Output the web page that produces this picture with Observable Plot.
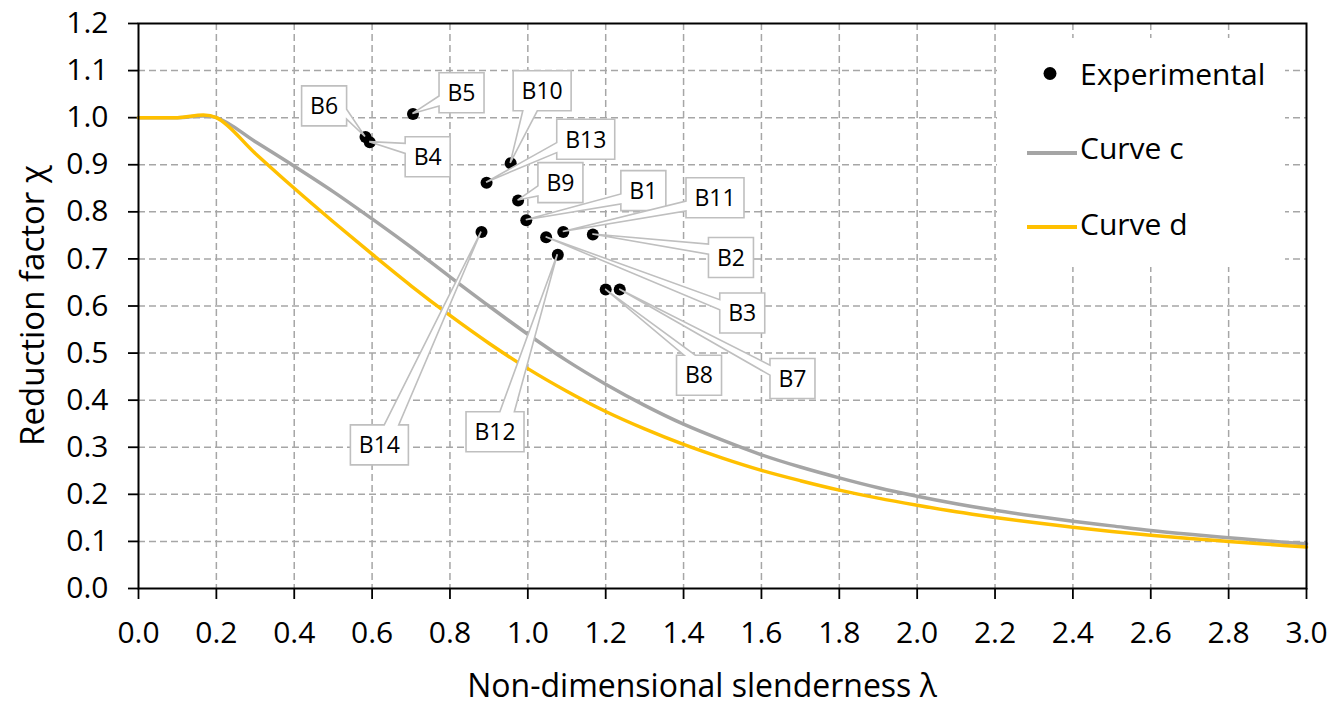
<!DOCTYPE html>
<html><head><meta charset="utf-8">
<script src="https://cdn.jsdelivr.net/npm/d3@7"></script>
<script src="https://cdn.jsdelivr.net/npm/@observablehq/plot@0.6"></script>
<style>
html,body{margin:0;padding:0;background:#fff;}
#chart svg{display:block;}
#chart svg g[aria-label*="axis"] path,#chart svg g[aria-label*="axis"] line{stroke-width:1.8px;stroke:#000;}
</style></head><body><div id="chart"></div>
<script>
// ---- data ----
const lambda = [0.0,0.1,0.2,0.3,0.4,0.5,0.6,0.7,0.8,0.9,1.0,1.1,1.2,1.3,1.4,1.5,1.6,1.7,1.8,1.9,2.0,2.1,2.2,2.3,2.4,2.5,2.6,2.7,2.8,2.9,3.0];
const curveC = [1.000,1.000,1.000,0.949,0.897,0.843,0.785,0.725,0.662,0.600,0.540,0.484,0.434,0.389,0.349,0.315,0.284,0.258,0.235,0.214,0.196,0.180,0.166,0.154,0.143,0.133,0.123,0.115,0.108,0.101,0.095];
const curveD = [1.000,1.000,1.000,0.924,0.850,0.779,0.710,0.643,0.580,0.521,0.467,0.419,0.376,0.339,0.306,0.277,0.251,0.229,0.209,0.192,0.177,0.163,0.151,0.140,0.130,0.121,0.113,0.106,0.100,0.094,0.088];

const names = ["B1","B2","B3","B4","B5","B6","B7","B8","B9","B10","B11","B12","B13","B14"];
const expX  = [0.996,1.167,1.047,0.594,0.705,0.583,1.236,1.200,0.975,0.956,1.091,1.077,0.894,0.881];
const expY  = [0.782,0.752,0.746,0.948,1.008,0.959,0.635,0.635,0.824,0.903,0.757,0.709,0.862,0.757];
// callout box centres (in chart units)
const labelX = [1.298,1.523,1.552,0.744,0.831,0.478,1.681,1.441,1.085,1.038,1.482,0.917,1.150,0.620];
const labelY = [0.844,0.702,0.584,0.916,1.052,1.024,0.445,0.452,0.861,1.056,0.829,0.332,0.953,0.304];

const xTicks = [0.0,0.2,0.4,0.6,0.8,1.0,1.2,1.4,1.6,1.8,2.0,2.2,2.4,2.6,2.8,3.0];
const yTicks = [0.0,0.1,0.2,0.3,0.4,0.5,0.6,0.7,0.8,0.9,1.0,1.1,1.2];
const seriesNames = ["Experimental","Curve c","Curve d"];
const xTitle = "Non-dimensional slenderness λ";
const yTitle = "Reduction factor χ";

// ---- styling ----
const FONT = "'Open Sans', 'DejaVu Sans', sans-serif";
const GRAY = "#A5A5A5", GOLD = "#FFC000", GRID = "#A6A6A6", CALLOUT = "#BFBFBF";

const dataC = lambda.map((l,i)=>({l, chi: curveC[i]}));
const dataD = lambda.map((l,i)=>({l, chi: curveD[i]}));
const exp = names.map((n,i)=>({n, x: expX[i], y: expY[i], lx: labelX[i], ly: labelY[i]}));

function pickScales(a,b){ return (b && typeof b.x === "function") ? b : a; }

function callouts(a,b){
  const s = pickScales(a,b);
  const g = d3.create("svg:g").attr("aria-label","callouts");
  exp.forEach(d=>{
    const px = s.x(d.x), py = s.y(d.y);
    const cx = s.x(d.lx), cy = s.y(d.ly);
    const w = d.n.length > 2 ? 58 : 45, h = 40;
    const x0 = cx - w/2, y0 = cy - h/2, x1 = x0 + w, y1 = y0 + h;
    const dx = px - cx, dy = py - cy;
    let p;
    if (Math.abs(dx*h) > Math.abs(dy*w)) {
      const ya = y0 + h*(dy > 0 ? 7 : 2)/12, yb = y0 + h*(dy > 0 ? 10 : 5)/12;
      if (dx > 0) p = `M${x0},${y0}H${x1}V${ya}L${px},${py}L${x1},${yb}V${y1}H${x0}Z`;
      else p = `M${x0},${y0}H${x1}V${y1}H${x0}V${yb}L${px},${py}L${x0},${ya}Z`;
    } else {
      const xa = x0 + w*(dx > 0 ? 7 : 2)/12, xb = x0 + w*(dx > 0 ? 10 : 5)/12;
      if (dy > 0) p = `M${x0},${y0}H${x1}V${y1}H${xb}L${px},${py}L${xa},${y1}H${x0}Z`;
      else p = `M${x0},${y0}H${xa}L${px},${py}L${xb},${y0}H${x1}V${y1}H${x0}Z`;
    }
    g.append("path").attr("d",p).attr("fill","#fff").attr("stroke",CALLOUT).attr("stroke-width",1.6).attr("stroke-linejoin","miter");
    g.append("text").attr("x",cx).attr("y",cy).attr("dy","0.36em").attr("text-anchor","middle")
      .attr("font-size",23).attr("font-family",FONT).attr("fill","#000").text(d.n);
  });
  return g.node();
}

function legend(a,b){
  const s = pickScales(a,b);
  const right = s.x(3.0), top = s.y(1.2);
  const g = d3.create("svg:g").attr("aria-label","legend").attr("font-family",FONT).attr("font-size",30).attr("text-anchor","start");
  g.append("path").attr("d",`M${right-309},${top+15}h288v229h-288Z`).attr("fill","#ffffff").attr("stroke","none");
  const tx = right - 226;
  g.append("circle").attr("cx", right-256).attr("cy", top+50.5).attr("r",6.5).attr("fill","#000");
  g.append("text").attr("x",tx).attr("y",top+62).attr("text-anchor","start").attr("fill","#000").text(seriesNames[0]);
  g.append("line").attr("x1",right-279).attr("x2",right-229).attr("y1",top+130).attr("y2",top+130).attr("stroke",GRAY).attr("stroke-width",4);
  g.append("text").attr("x",tx).attr("y",top+136).attr("text-anchor","start").attr("fill","#000").text(seriesNames[1]);
  g.append("line").attr("x1",right-279).attr("x2",right-229).attr("y1",top+204).attr("y2",top+204).attr("stroke",GOLD).attr("stroke-width",4);
  g.append("text").attr("x",tx).attr("y",top+212).attr("text-anchor","start").attr("fill","#000").text(seriesNames[2]);
  return g.node();
}

function titles(a,b){
  const s = pickScales(a,b);
  const g = d3.create("svg:g").attr("font-family",FONT).attr("fill","#000");
  g.append("text").attr("x",702).attr("y",s.y(0)+109).attr("text-anchor","middle").attr("font-size",32).text(xTitle);
  g.append("text").attr("transform",`translate(44,${(s.y(0)+s.y(1.2))/2}) rotate(-90)`).attr("text-anchor","middle").attr("font-size",33).text(yTitle);
  return g.node();
}

const chart = Plot.plot({
  width: 1334, height: 709,
  marginLeft: 138, marginRight: 28, marginTop: 23, marginBottom: 121,
  style: {fontFamily: FONT, fontSize: "30px", color: "#000", background: "#fff"},
  x: {domain: [0, 3], ticks: xTicks, tickFormat: d3.format(".1f"), tickSize: 11, tickPadding: 22, label: null},
  y: {domain: [0, 1.2], ticks: yTicks, tickFormat: d3.format(".1f"), tickSize: 10, tickPadding: 20, label: null},
  marks: [
    Plot.ruleX(xTicks.slice(1, -1), {stroke: GRID, strokeWidth: 1.5, strokeDasharray: "7,4"}),
    Plot.ruleY(yTicks.slice(1, -1), {stroke: GRID, strokeWidth: 1.5, strokeDasharray: "7,4"}),
    Plot.line(dataC, {x: "l", y: "chi", stroke: GRAY, strokeWidth: 3.5, curve: "cardinal", tension: 0}),
    Plot.line(dataD, {x: "l", y: "chi", stroke: GOLD, strokeWidth: 3.5, curve: "cardinal", tension: 0}),
    Plot.dot(exp, {x: "x", y: "y", r: 6, fill: "#000", stroke: "none"}),
    callouts,
    legend,
    Plot.frame({stroke: "#000", strokeWidth: 2}),
    titles
  ]
});
document.getElementById("chart").appendChild(chart);
</script>
</body></html>
